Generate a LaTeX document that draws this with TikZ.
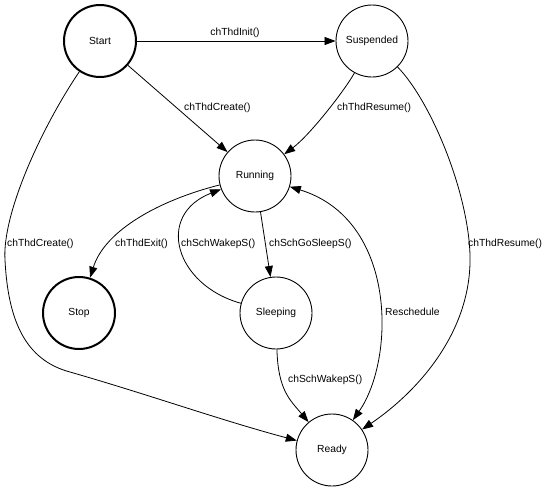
\documentclass[tikz,border=0pt]{standalone}
\usepackage{fontspec}
\setmainfont{Liberation Sans}
\usetikzlibrary{positioning, arrows.meta}

\begin{document}
\begin{tikzpicture}[x=1pt, y=-1pt, font=\fontsize{10.3}{12}\selectfont,
    state/.style={draw, circle, minimum size=72pt, inner sep=0pt, line width=0.9pt},
    endstate/.style={state, line width=2pt},
    lbl/.style={anchor=west, inner sep=0pt},
    trans/.style={-{Triangle[length=11pt, width=8pt]}, line width=0.8pt}]
  \useasboundingbox (0,0) rectangle (549,491);
  \node[endstate] (start) at (100,41) {Start};
  \node[state] (susp) at (372,41) {Suspended};
  \node[state] (run) at (255,176) {Running};
  \node[endstate] (stop) at (79,313) {Stop};
  \node[state] (sleep) at (276,313) {Sleeping};
  \node[state] (ready) at (332,450) {Ready};
  \draw[trans] (start) -- (susp);
  \draw[trans] (start) -- (run);
  \draw[trans] (susp) .. controls (345,90) and (310,135) .. (run);
  \draw[trans] (susp) .. controls (430,100) and (468,190) .. (470,255)
    .. controls (472,330) and (420,390) .. (ready);
  \draw[trans] (start) .. controls (40,130) and (2,215) .. (5,260)
    .. controls (8,320) and (25,360) .. (70,372)
    .. controls (150,395) and (220,420) .. (ready);
  \draw[trans] (run) .. controls (160,200) and (105,230) .. (stop);
  \draw[trans] (sleep) .. controls (175,285) and (155,215) .. (run);
  \draw[trans] (run) -- (sleep);
  \draw[trans] (sleep) .. controls (278,390) and (290,400) .. (ready);
  \draw[trans, {Triangle[length=11pt, width=8pt]}-{Triangle[length=11pt, width=8pt]}]
    (run) .. controls (398,220) and (395,360) .. (ready);
  % labels
  \node[inner sep=0pt] (lInit) at (235,33) {chThdInit()};
  \node[lbl] (lCreateA) at (184,108) {chThdCreate()};
  \node[lbl] (lResumeA) at (337,108) {chThdResume()};
  \node[lbl] (lCreateB) at (7,244) {chThdCreate()};
  \node[lbl] (lExit) at (115,244) {chThdExit()};
  \node[lbl] (lWakeA) at (181,244) {chSchWakepS()};
  \node[lbl] (lSleep) at (269,244) {chSchGoSleepS()};
  \node[lbl] (lResumeB) at (468,244) {chThdResume()};
  \node[lbl] (lResched) at (385,312) {Reschedule};
  \node[lbl] (lWakeB) at (288,380) {chSchWakepS()};
\end{tikzpicture}
\end{document}
